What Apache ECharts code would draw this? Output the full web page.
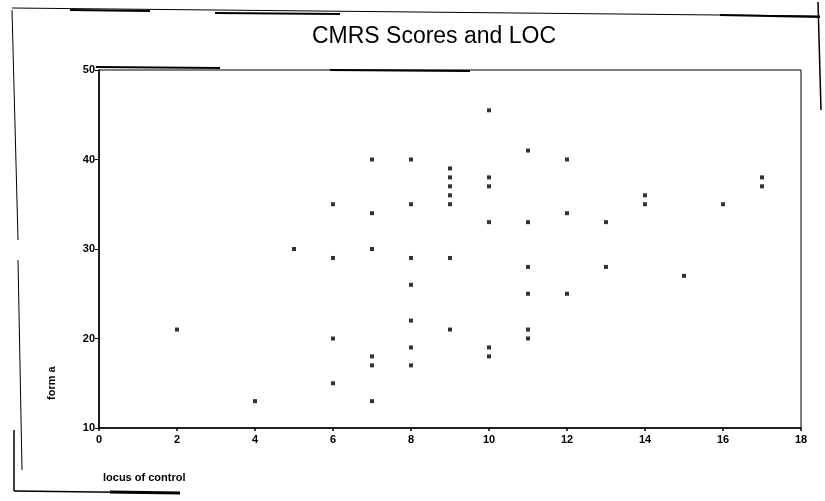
<!DOCTYPE html>
<html>
<head>
<meta charset="utf-8">
<script src="https://cdn.jsdelivr.net/npm/echarts@6/dist/echarts.min.js"></script>
<style>
html,body{margin:0;padding:0;background:#fff;}
#chart{width:825px;height:501px;}
</style>
</head>
<body>
<div id="chart"></div>
<script>
const chartTitle = "CMRS Scores and LOC";
const xAxisName = "locus of control";
const yAxisName = "form a";
const locusOfControl = [2,4,5,6,6,6,6,7,7,7,7,7,7,8,8,8,8,8,8,8,9,9,9,9,9,9,9,10,10,10,10,10,10,11,11,11,11,11,11,12,12,12,13,13,14,14,15,16,17,17];
const formA = [21,13,30,35,29,20,15,40,34,30,18,17,13,40,35,29,26,22,19,17,39,38,37,36,35,29,21,45.5,38,37,33,19,18,41,33,28,25,21,20,40,34,25,33,28,36,35,27,35,38,37];
const xTicks = [0,2,4,6,8,10,12,14,16,18];
const yTicks = [10,20,30,40,50];

const points = locusOfControl.map((x, i) => [x, formA[i]]);
const chart = echarts.init(document.getElementById('chart'), null, {renderer: 'canvas'});
const font = "'Liberation Sans', Arial, sans-serif";
const line = (x1,y1,x2,y2,w) => ({type:'line', shape:{x1,y1,x2,y2}, style:{stroke:'#000', lineWidth:w}, silent:true});

chart.setOption({
  backgroundColor: '#fff',
  animation: false,
  title: {
    text: chartTitle,
    left: 429, top: 20, textAlign: 'center',
    textStyle: {fontFamily: font, fontSize: 23, fontWeight: 'normal', color: '#000'}
  },
  grid: {left: 99, top: 70, width: 702, height: 358, show: true, borderColor: '#000', borderWidth: 1, backgroundColor: 'transparent'},
  xAxis: {
    type: 'value', min: xTicks[0], max: xTicks[xTicks.length-1], interval: 2,
    axisLine: {show: true, onZero: false, lineStyle: {color: '#000', width: 1.5}},
    axisTick: {show: true, length: 3, inside: false, lineStyle: {color: '#000', width: 1.5}},
    axisLabel: {color: '#000', fontFamily: font, fontSize: 11, fontWeight: 'bold', margin: 6},
    splitLine: {show: false}
  },
  yAxis: {
    type: 'value', min: yTicks[0], max: yTicks[yTicks.length-1], interval: 10,
    axisLine: {show: true, onZero: false, lineStyle: {color: '#000', width: 1.5}},
    axisTick: {show: true, length: 4, lineStyle: {color: '#000', width: 1}},
    axisLabel: {color: '#000', fontFamily: font, fontSize: 11, fontWeight: 'bold', margin: 4},
    splitLine: {show: false}
  },
  graphic: [
    {type:'text', left: 103, top: 472, style:{text: xAxisName, font: "bold 11px 'Liberation Sans', Arial, sans-serif", fill:'#000'}},
    {type:'text', x: 52, y: 400, rotation: Math.PI/2, style:{text: yAxisName, font: "bold 11px 'Liberation Sans', Arial, sans-serif", fill:'#000', textAlign:'left', textVerticalAlign:'middle'}, originX: 0, originY: 0},
    line(12, 8, 820, 16, 1),
    line(70, 10, 150, 11, 2),
    line(215, 13, 340, 14, 2),
    line(720, 15, 820, 17, 2),
    line(12, 10, 18, 240, 1),
    line(18, 260, 22, 470, 1),
    line(818, 2, 821, 110, 1.5),
    line(14, 430, 14, 491, 1.5),
    line(14, 491, 180, 493, 1.5),
    line(110, 492, 180, 493, 3),
    line(96, 67, 220, 68, 2),
    line(330, 70, 470, 71, 2)
  ],
  series: [{
    type: 'scatter',
    data: points,
    symbol: 'rect',
    symbolSize: 4,
    itemStyle: {color: '#000'}
  }]
});
</script>
</body>
</html>
